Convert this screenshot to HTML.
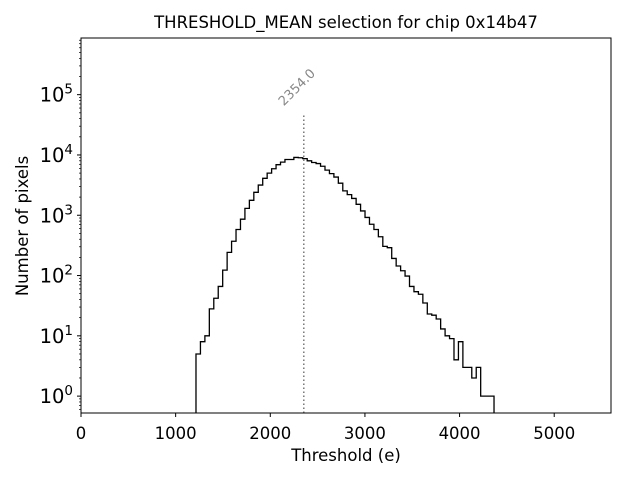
<!DOCTYPE html>
<html><head><meta charset="utf-8"><style>
body{margin:0;background:#fff;}
svg{display:block;font-family:"DejaVu Sans","Liberation Sans",sans-serif;}
</style></head><body>
<svg id="chart" width="640" height="480" xmlns="http://www.w3.org/2000/svg">
<text x="346" y="28" font-size="16.5" text-anchor="middle">THRESHOLD_MEAN selection for chip 0x14b47</text>
<text x="346" y="461" font-size="16.5" text-anchor="middle">Threshold (e)</text>
<text x="28" y="226" font-size="16.5" text-anchor="middle" transform="rotate(-90 28 226)">Number of pixels</text>
<g id="plot"></g>
</svg>
<script>
const binStart = 1215;
const binWidth = 47;
const counts = [5,8,10,28,42,66,123,242,370,580,860,1300,1770,2400,3170,4100,5000,5900,6900,7600,
8400,8400,9100,9000,8700,
8000,7500,7200,6500,5600,4900,4300,3400,2540,2200,1900,1520,1180,920,710,580,440,305,290,192,144,120,98,66,54,49,35,23,22,19,13,10,9,4,8,3,3,2,3,1,1,1];
const xTicks = [0,1000,2000,3000,4000,5000];
const yExps = [0,1,2,3,4,5];
const selValue = 2354.0;
const selTop = 49000;

const L=81,R=611,T=38,B=413;
const xMax=5600;
const yMinE=-0.28, yMaxE=5.94;
const sx=v=>L+(v/xMax)*(R-L);
const sy=v=>B-(Math.log10(v)-yMinE)/(yMaxE-yMinE)*(B-T);
const NS="http://www.w3.org/2000/svg";
const g=document.getElementById('plot');
function mk(tag,attrs,parent){const e=document.createElementNS(NS,tag);for(const k in attrs)e.setAttribute(k,attrs[k]);(parent||g).appendChild(e);return e;}

let d="M"+sx(binStart)+","+B;
for(let i=0;i<counts.length;i++){
  const x0=sx(binStart+i*binWidth),x1=sx(binStart+(i+1)*binWidth),y=sy(counts[i]);
  d+=" L"+x0+","+y+" L"+x1+","+y;
}
d+=" L"+sx(binStart+counts.length*binWidth)+","+B;
const hist=mk('path',{d:d,fill:'none',stroke:'#000','stroke-width':1.3});



const sl=mk('line',{x1:sx(selValue),x2:sx(selValue),y1:B,y2:sy(selTop),stroke:'#777','stroke-width':1.5,'stroke-dasharray':'1.5,2.5'});


const lx=sx(selValue)-20,ly=sy(selTop)-7;
const lt=mk('text',{x:lx,y:ly,'font-size':13,fill:'#888',transform:'rotate(-45 '+lx+' '+ly+')'});
lt.textContent=selValue.toFixed(1);



const fr=mk('rect',{x:L,y:T,width:R-L,height:B-T,fill:'none',stroke:'#000','stroke-width':1});



xTicks.forEach(v=>{
  const x=sx(v);
  const t=mk('line',{x1:x,x2:x,y1:B,y2:B+4,stroke:'#000'});
  
  
  const tx=mk('text',{x:x,y:B+26,'font-size':16.5,'text-anchor':'middle'});
  tx.textContent=v;
  
  
});

for(let e=-1;e<=6;e++){
  for(let m=1;m<10;m++){
    const v=m*Math.pow(10,e);const le=Math.log10(v);
    if(le<yMinE||le>yMaxE)continue;
    const y=sy(v);
    const t=mk('line',{x1:L-(m===1?4:2),x2:L,y1:y,y2:y,stroke:'#000','stroke-width':m===1?1:0.7});
    
    
  }
}
yExps.forEach(e=>{
  const y=sy(Math.pow(10,e));
  const tx=mk('text',{x:L-8,y:y+7,'font-size':19.5,'text-anchor':'end'});
  
  
  const b=document.createElementNS(NS,'tspan');b.textContent='10';tx.appendChild(b);
  const s=document.createElementNS(NS,'tspan');s.setAttribute('dy','-8');s.setAttribute('font-size','13.5');s.textContent=e;tx.appendChild(s);
});
</script>
</body></html>
